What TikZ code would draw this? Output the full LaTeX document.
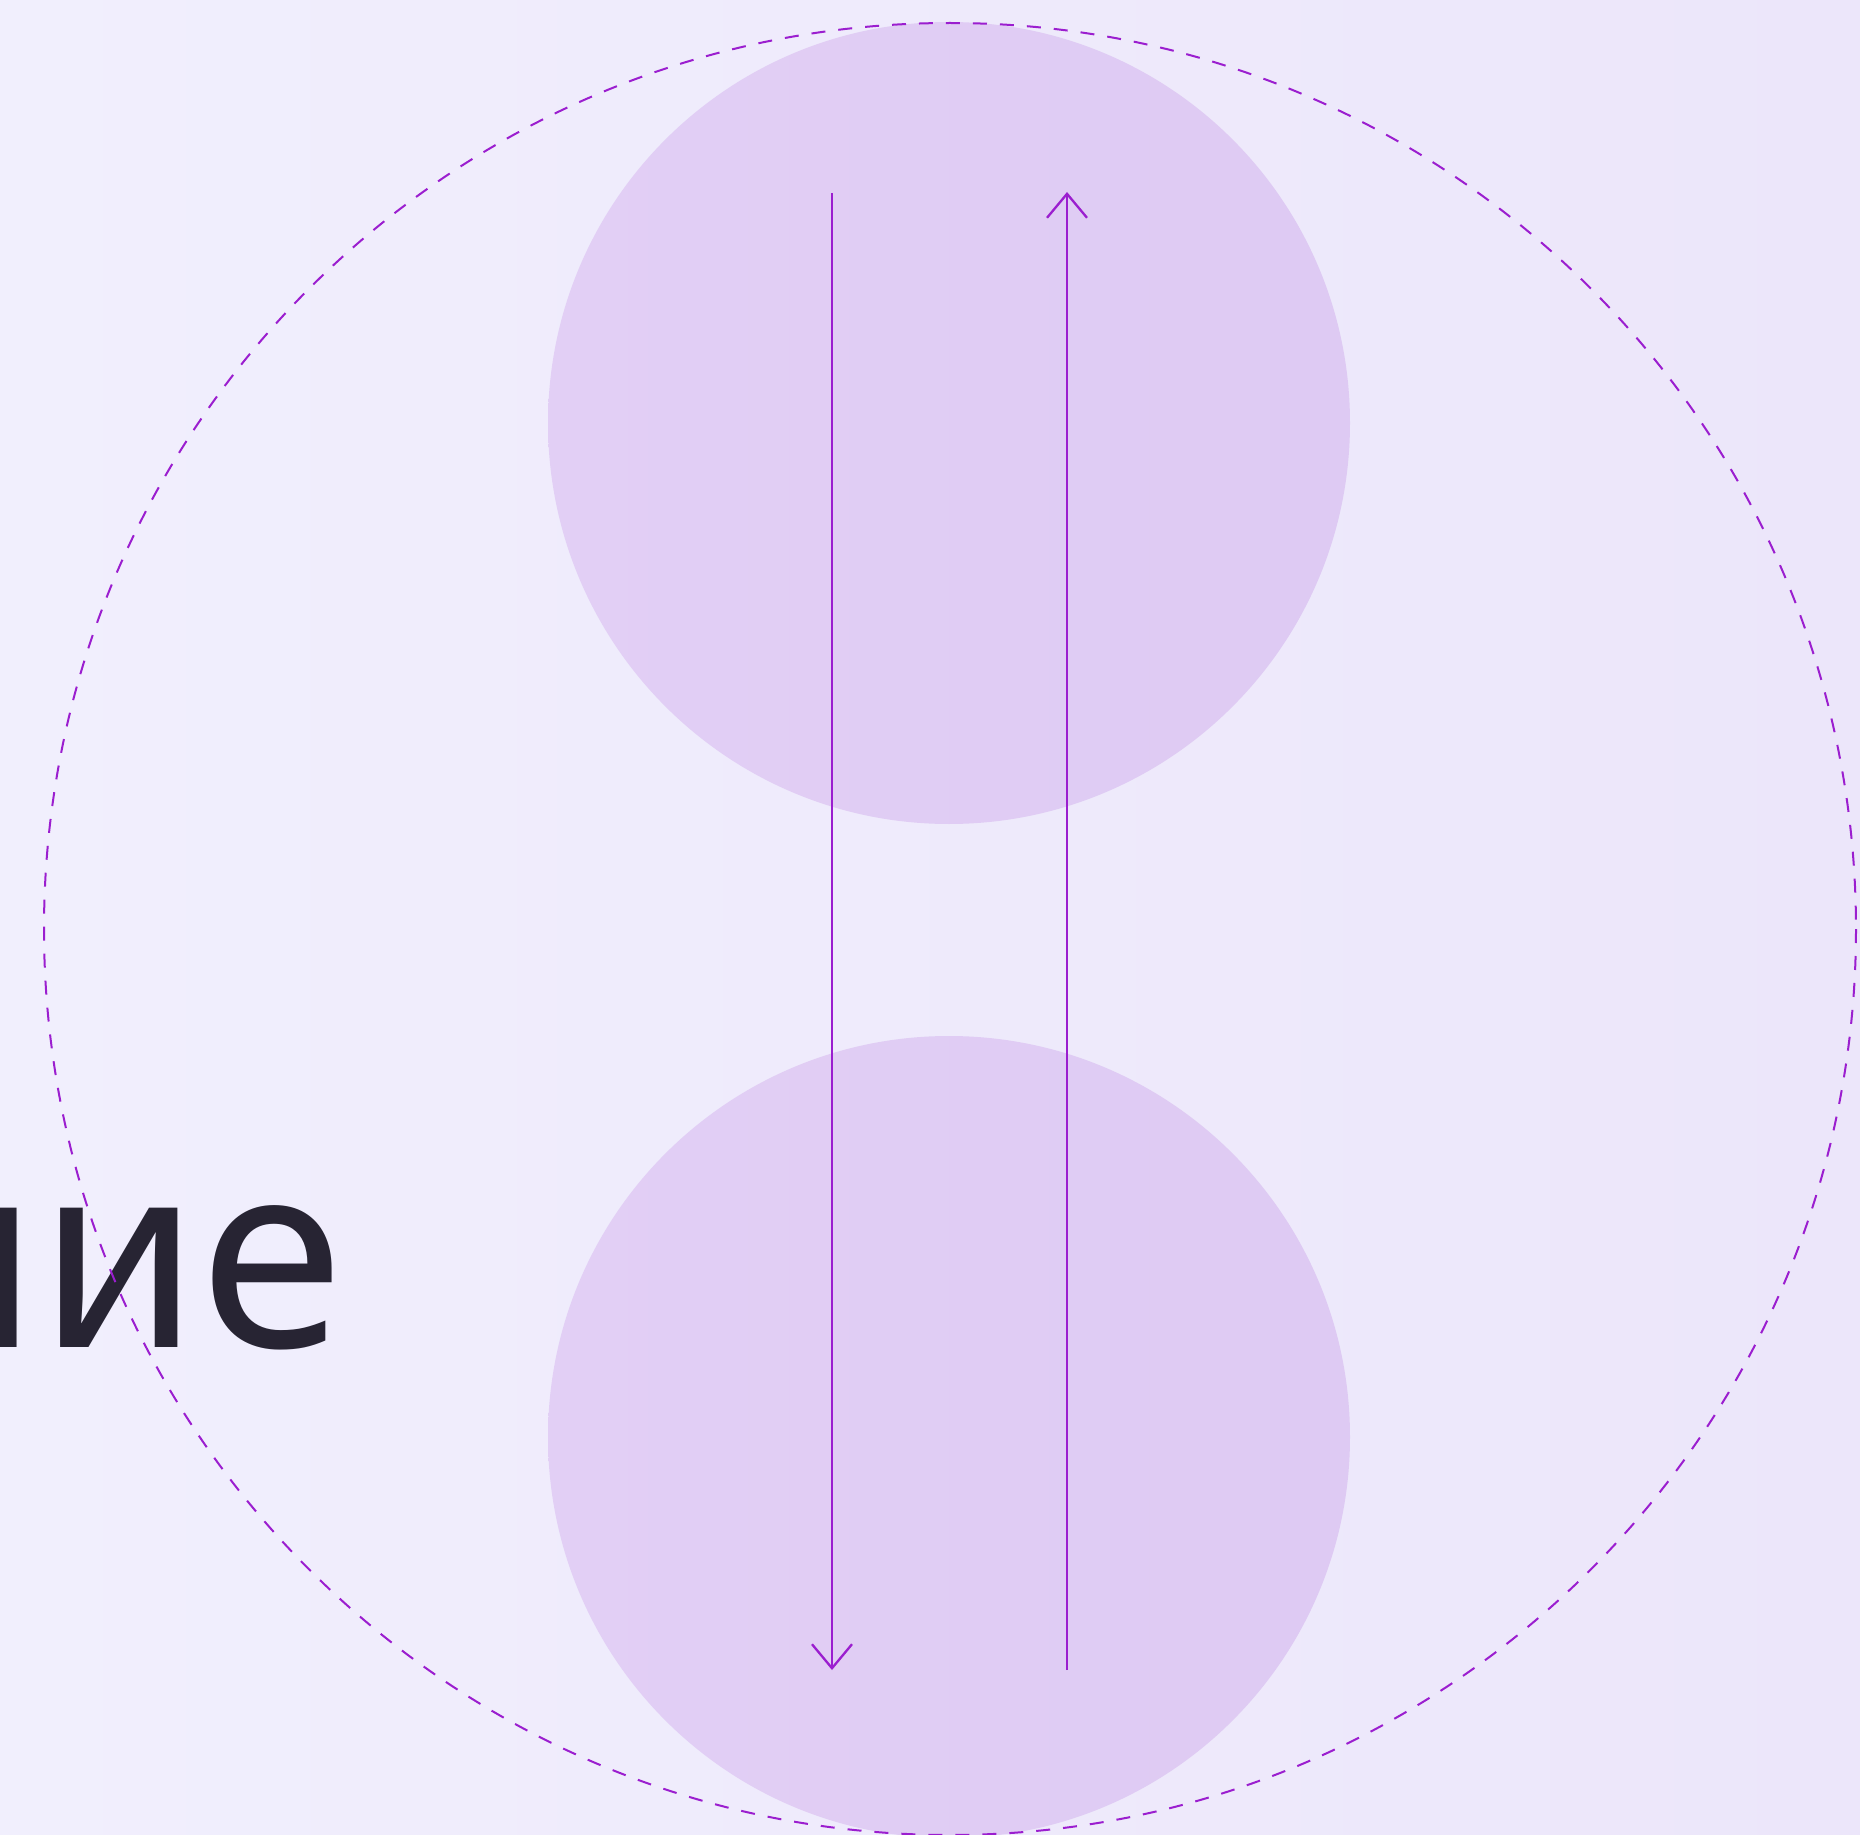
\documentclass[tikz,border=0pt]{standalone}
\usepackage{fontspec}
\setmainfont{Noto Sans}
\usetikzlibrary{arrows.meta}
\definecolor{bgL}{HTML}{F1EFFD}
\definecolor{bgR}{HTML}{ECE6FA}
\definecolor{blobL}{HTML}{E2CFF5}
\definecolor{blobR}{HTML}{DECAF3}
\definecolor{violet}{HTML}{9B1ECF}
\definecolor{ink}{HTML}{272433}
\tikzset{
  blob/.style={left color=blobL, right color=blobR, draw=none},
  guide/.style={draw=violet, line width=1pt, dash pattern=on 7pt off 6.5pt},
  flow/.style={draw=violet, line width=1.15pt, -{Straight Barb[length=12pt,width=20pt,line width=1.15pt]}},
}
\begin{document}
\begin{tikzpicture}[x=0.5pt,y=-0.5pt]
\useasboundingbox (0,0) rectangle (1860,1835);
\clip (0,0) rectangle (1860,1835);
\shade[left color=bgL, right color=bgR] (0,0) rectangle (1860,1835);
\shade[blob] (949,423) circle[radius=401];
\shade[blob] (949,1437) circle[radius=401];
\node[anchor=base east, text=ink, font=\fontsize{130}{130}\selectfont, inner sep=0pt] (word) at (344,1347) {ние};
\draw[guide] (950,929) circle[radius=906];
\coordinate (l1) at (832,193);
\coordinate (l2) at (832,1670);
\coordinate (r1) at (1067,1670);
\coordinate (r2) at (1067,192);
\draw[flow] (l1) -- (l2);
\draw[flow] (r1) -- (r2);
\end{tikzpicture}
\end{document}
